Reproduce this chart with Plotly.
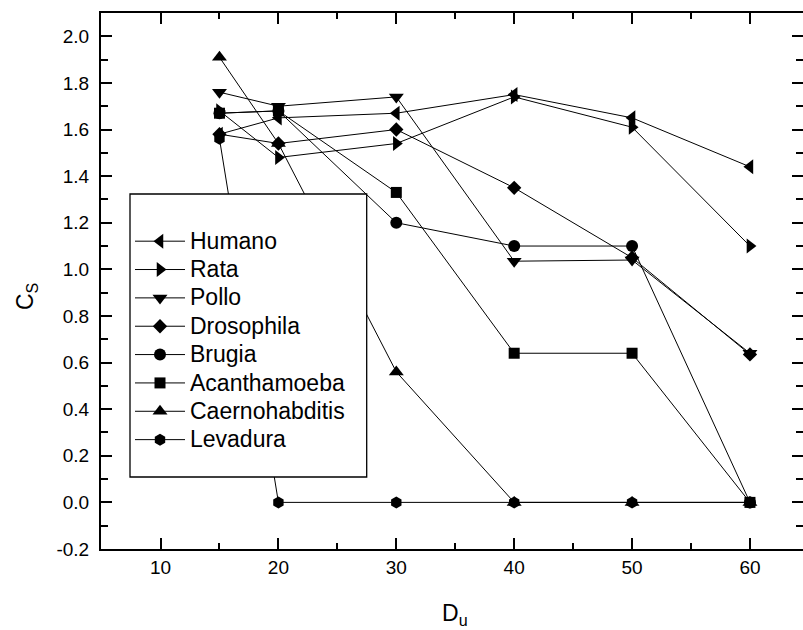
import plotly.graph_objects as go

# D_u values (x axis)
du = [15, 20, 30, 40, 50, 60]

# C_S values per organism
humano = [1.58, 1.65, 1.67, 1.75, 1.65, 1.44]
rata = [1.68, 1.48, 1.54, 1.74, 1.61, 1.10]
pollo = [1.76, 1.70, 1.74, 1.035, 1.04, 0.64]
drosophila = [1.58, 1.54, 1.60, 1.35, 1.05, 0.635]
brugia = [1.67, 1.68, 1.20, 1.10, 1.10, 0.0]
acanthamoeba = [1.67, 1.68, 1.33, 0.64, 0.64, 0.0]
caernohabditis = [1.91, 1.54, 0.56, 0.0, 0.0, 0.0]
levadura = [1.56, 0.0, 0.0, 0.0, 0.0, 0.0]

names = ["Humano", "Rata", "Pollo", "Drosophila", "Brugia",
         "Acanthamoeba", "Caernohabditis", "Levadura"]
series = [humano, rata, pollo, drosophila, brugia,
          acanthamoeba, caernohabditis, levadura]
symbols = ["triangle-left", "triangle-right", "triangle-down", "diamond",
           "circle", "square", "triangle-up", "hexagon"]
marker_sizes = [13, 13, 13, 11, 12, 11, 13, 12]

x_ticks = [10, 20, 30, 40, 50, 60]
y_ticks = [-0.2, 0.0, 0.2, 0.4, 0.6, 0.8, 1.0, 1.2, 1.4, 1.6, 1.8, 2.0]
y_tick_text = ["-0.2", "0.0", "0.2", "0.4", "0.6", "0.8", "1.0",
               "1.2", "1.4", "1.6", "1.8", "2.0"]

FONT = 'Arial, "Liberation Sans", sans-serif'
W, H = 803, 630
ML, MR, MT, MB = 101, 0, 13, 81
PW, PH = W - ML - MR, H - MT - MB


def px_x(p):
    return (p - ML) / PW


def px_y(p):
    return (H - MB - p) / PH


fig = go.Figure()
for name, vals, sym, ms in zip(names, series, symbols, marker_sizes):
    fig.add_trace(go.Scatter(
        x=du, y=vals, name='<span style="font-size:23px">%s</span>' % name,
        mode="lines+markers",
        line=dict(color="black", width=1),
        marker=dict(symbol=sym, size=ms, color="black", line=dict(width=0)),
    ))

# invisible trace carrying the right-hand tick marks
fig.add_trace(go.Scatter(x=[None], y=[None], yaxis="y2", showlegend=False,
                         hoverinfo="skip"))

axis_common = dict(
    showgrid=False, zeroline=False, showline=True, linecolor="black",
    linewidth=2, ticks="inside", tickcolor="black", tickwidth=2,
    tickfont=dict(size=19, family=FONT, color="black"),
)

fig.update_layout(
    width=W, height=H,
    margin=dict(l=ML, r=MR, t=MT, b=MB),
    plot_bgcolor="white", paper_bgcolor="white",
    font=dict(family=FONT, color="black"),
    xaxis=dict(range=[4.95, 64.5], tickvals=x_ticks, ticklen=11,
               mirror="ticks",
               minor=dict(dtick=5, tick0=0, ticks="inside", ticklen=6,
                          tickwidth=2, tickcolor="black"),
               **axis_common),
    yaxis=dict(range=[-0.2, 2.1], tickvals=y_ticks, ticktext=y_tick_text,
               ticklen=11, ticklabelstandoff=6,
               minor=dict(dtick=0.1, tick0=0, ticks="inside", ticklen=7,
                          tickwidth=2, tickcolor="black"),
               **axis_common),
    yaxis2=dict(range=[-0.2, 2.1], overlaying="y", side="right",
                showline=False, showgrid=False, zeroline=False,
                tickvals=y_ticks, showticklabels=False, ticks="inside",
                ticklen=11, tickwidth=2, tickcolor="black",
                minor=dict(dtick=0.1, tick0=0, ticks="inside", ticklen=7,
                           tickwidth=2, tickcolor="black")),
    showlegend=True,
    legend=dict(x=px_x(130), y=px_y(222), xanchor="left", yanchor="top",
                bgcolor="rgba(0,0,0,0)", borderwidth=0,
                font=dict(size=19.5, family=FONT, color="black"),
                itemwidth=50, tracegroupgap=0),
    shapes=[dict(type="rect", xref="paper", yref="paper",
                 x0=px_x(130), x1=px_x(366.7), y0=px_y(477), y1=px_y(194),
                 fillcolor="white", line=dict(color="black", width=1.3),
                 layer="above")],
    annotations=[
        dict(text="C<sub>S</sub>", textangle=-90, showarrow=False,
             xref="paper", yref="paper", x=px_x(26), y=px_y(297),
             xanchor="center", yanchor="middle",
             font=dict(size=23, family=FONT, color="black")),
        dict(text="D<sub>u</sub>", showarrow=False,
             xref="paper", yref="paper", x=px_x(455), y=px_y(614),
             xanchor="center", yanchor="middle",
             font=dict(size=23, family=FONT, color="black")),
    ],
)

fig.write_html("out.html")
